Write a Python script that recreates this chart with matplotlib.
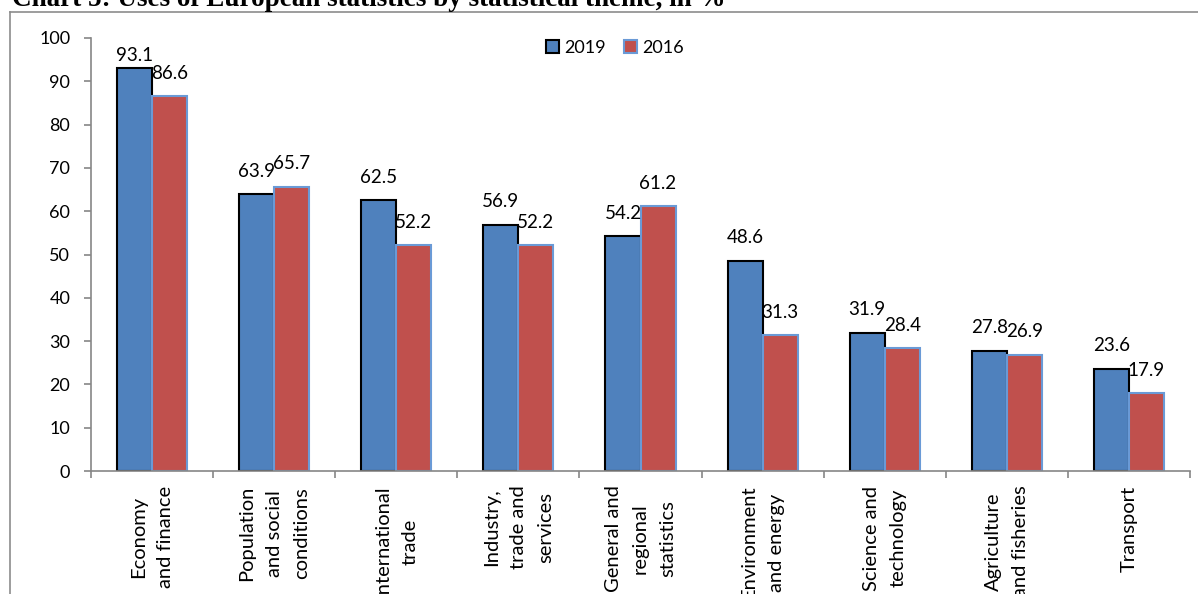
import matplotlib
matplotlib.use("Agg")
import matplotlib.pyplot as plt
from matplotlib.lines import Line2D
import numpy as np

categories = ["Economy\nand finance", "Population\nand social\nconditions",
              "International\ntrade", "Industry,\ntrade and\nservices",
              "General and\nregional\nstatistics", "Environment\nand energy",
              "Science and\ntechnology", "Agriculture\nand fisheries", "Transport"]
values_2019 = [93.1, 63.9, 62.5, 56.9, 54.2, 48.6, 31.9, 27.8, 23.6]
values_2016 = [86.6, 65.7, 52.2, 52.2, 61.2, 31.3, 28.4, 26.9, 17.9]
series_names = ["2019", "2016"]
yticks = list(range(0, 101, 10))
title = "Chart 5: Uses of European statistics by statistical theme, in %"

W, H = 1198, 594
fig = plt.figure(figsize=(W / 100, H / 100), dpi=100)
plt.rcParams['font.family'] = ['Lato', 'DejaVu Sans']

ax = fig.add_axes([91 / W, 1 - 471 / H, (1190 - 91) / W, (471 - 38) / H])

blue = '#4F81BD'
red = '#C0504D'
x = np.arange(len(categories))
w = 35 / 121.8

ax.bar(x - w / 2, values_2019, w, color=blue, edgecolor='black', linewidth=1.5,
       label=series_names[0], zorder=2)
ax.bar(x + w / 2, values_2016, w, color=red, edgecolor='#6A9AD6', linewidth=1.5,
       label=series_names[1], zorder=2)

off = 5.3
for xi, v in zip(x, values_2019):
    ax.text(xi - w / 2, min(v + off, 96.0), f"{v:.1f}", ha='center', va='center',
            fontsize=13.5, color='black', zorder=3)
for xi, v in zip(x, values_2016):
    ax.text(xi + w / 2, min(v + off, 96.0), f"{v:.1f}", ha='center', va='center',
            fontsize=13.5, color='black', zorder=3)

ax.set_xlim(-0.5, len(categories) - 0.5)
ax.set_ylim(0, 100)
ax.set_yticks(yticks)
ax.set_yticklabels([str(t) for t in yticks], fontsize=13)
ax.tick_params(axis='y', length=5, width=1.2, color='#868686', pad=10)

ax.set_xticks(x)
ax.set_xticklabels(categories, rotation=90, fontsize=14.5, multialignment='center',
                   linespacing=1.72)
ax.tick_params(axis='x', which='major', length=0, pad=10.5)
ax.set_xticks(np.arange(-0.5, len(categories), 1.0), minor=True)
ax.tick_params(axis='x', which='minor', length=5, width=1.2, color='#868686')

for s in ['top', 'right']:
    ax.spines[s].set_visible(False)
for s in ['left', 'bottom']:
    ax.spines[s].set_color('#868686')
    ax.spines[s].set_linewidth(1.2)

leg = fig.legend(loc='center', bbox_to_anchor=(615 / W, 1 - 48 / H), ncol=2,
                 frameon=False, fontsize=13, handlelength=0.7, handleheight=0.7,
                 handletextpad=0.3, columnspacing=1.0)

# outer chart frame (partially visible)
fig.add_artist(Line2D([10 / W, 10 / W], [0, 1 - 12 / H], transform=fig.transFigure,
                      color='#8C8C8C', linewidth=1.2))
fig.add_artist(Line2D([10 / W, 1.0], [1 - 12 / H, 1 - 12 / H], transform=fig.transFigure,
                      color='#8C8C8C', linewidth=1.2))

fig.text(12 / W, 1 - 5.5 / H, title, family=['Liberation Serif'], fontweight='bold',
         fontsize=19.5, ha='left', va='baseline')

fig.savefig("out.png", dpi=100)
